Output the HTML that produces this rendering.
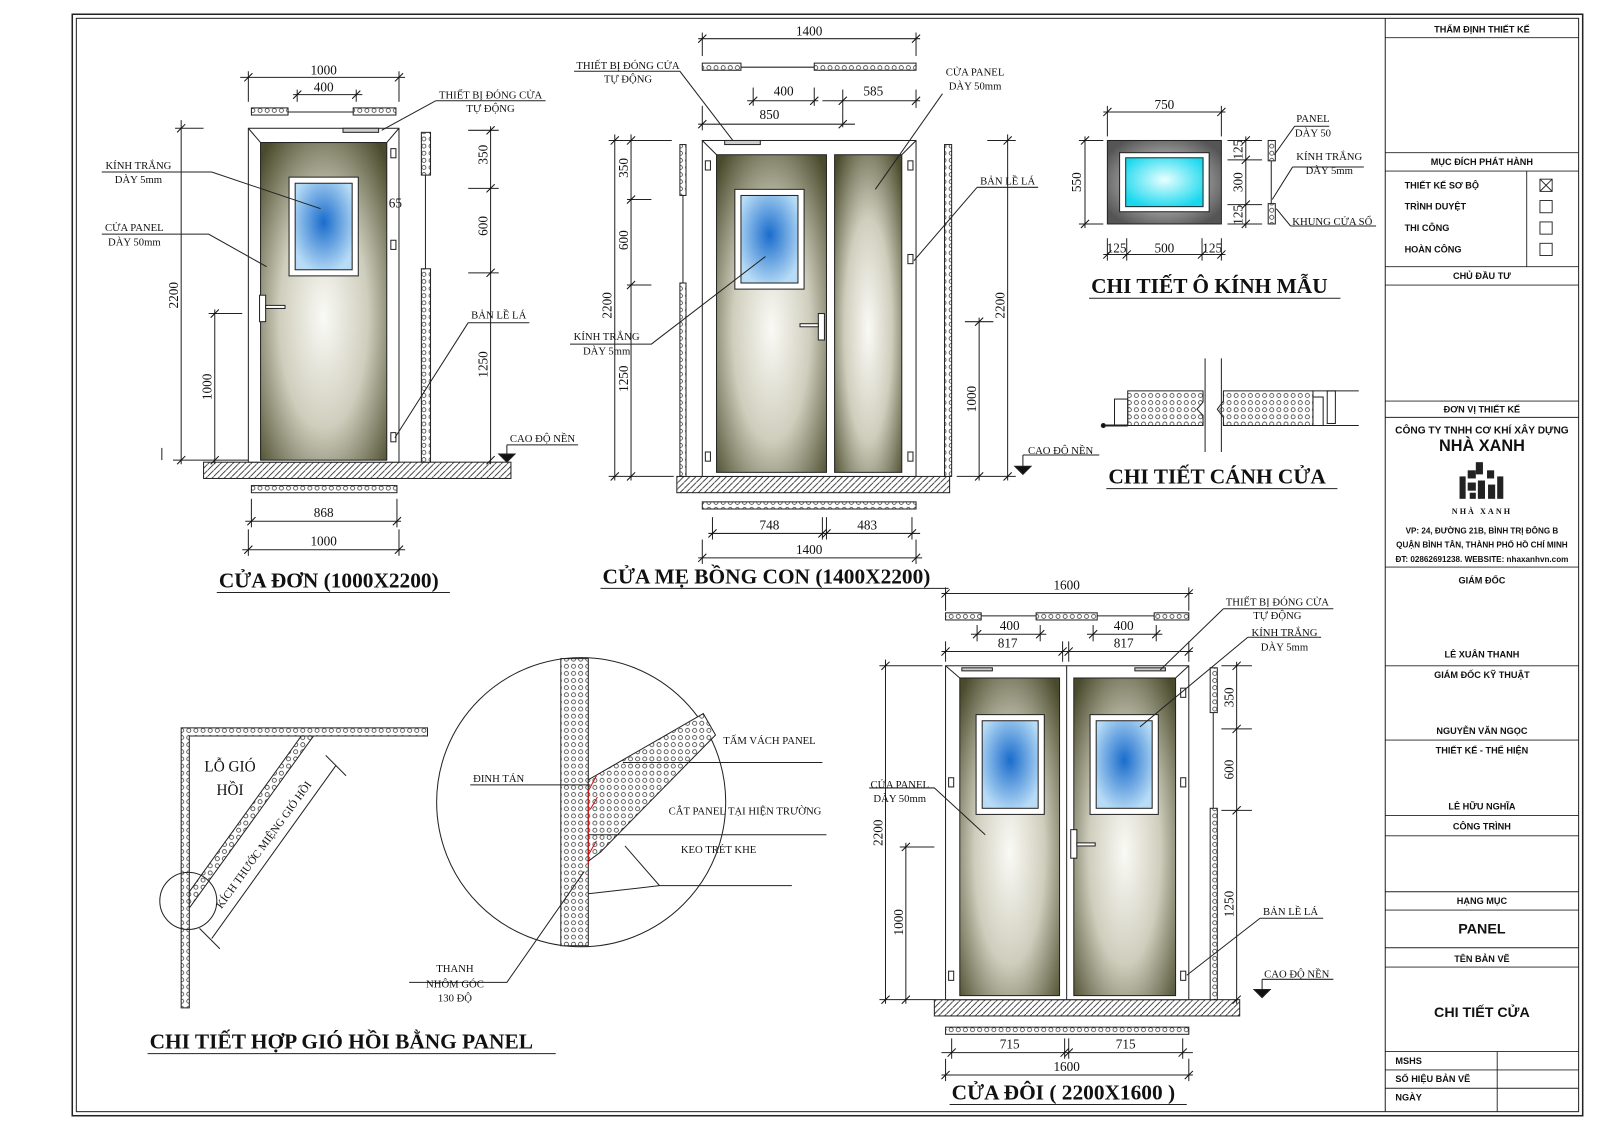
<!DOCTYPE html>
<html><head><meta charset="utf-8"><style>
html,body{margin:0;padding:0;background:#fff;}
svg{display:block}
text{font-family:"Liberation Serif",serif;fill:#111}
.s{font-size:10.5px}
.d{font-size:13px}
.T{font-family:"Liberation Serif",serif;font-weight:bold;font-size:21px}
.tb{font-family:"Liberation Sans",sans-serif;font-weight:bold;font-size:9px}
</style></head><body>
<svg width="1600" height="1131" viewBox="0 0 1572 1111" preserveAspectRatio="none" xmlns="http://www.w3.org/2000/svg">
<defs>
<radialGradient id="pg" cx="50%" cy="55%" r="70%"><stop offset="0" stop-color="#fafaf6"/><stop offset="0.5" stop-color="#cfcebd"/><stop offset="1" stop-color="#4a4a2c"/></radialGradient>
<radialGradient id="gl" cx="50%" cy="45%" r="60%"><stop offset="0" stop-color="#1a6ccc"/><stop offset="1" stop-color="#b8dcf6"/></radialGradient>
<radialGradient id="gl2" cx="50%" cy="45%" r="60%"><stop offset="0" stop-color="#e9ffff"/><stop offset="1" stop-color="#19d8ee"/></radialGradient>
<radialGradient id="wf" cx="50%" cy="50%" r="60%"><stop offset="0" stop-color="#eeeeee"/><stop offset="1" stop-color="#555"/></radialGradient>
<pattern id="h" width="6" height="6" patternUnits="userSpaceOnUse"><path d="M0,6 L6,0" stroke="#222" stroke-width="0.8"/></pattern>
<pattern id="c" width="7" height="7" patternUnits="userSpaceOnUse"><rect width="7" height="7" fill="#fff"/><circle cx="3.5" cy="3.5" r="2" fill="none" stroke="#222" stroke-width="0.7"/></pattern>
<path id="t" d="M-4,4 L4,-4" stroke="#111" stroke-width="1"/>
</defs>
<g fill="none" stroke="#222" stroke-width="1">
<rect x="71" y="14" width="1484" height="1082" stroke-width="1.5"/>
<rect x="75" y="18" width="1476" height="1074"/>
<line x1="1361" y1="18" x2="1361" y2="1092"/>
<g stroke-width="0.9">
<line x1="1361" y1="37" x2="1551" y2="37"/><line x1="1361" y1="150" x2="1551" y2="150"/>
<line x1="1361" y1="168" x2="1551" y2="168"/><line x1="1500" y1="168" x2="1500" y2="262"/>
<line x1="1361" y1="262" x2="1551" y2="262"/><line x1="1361" y1="280" x2="1551" y2="280"/>
<line x1="1361" y1="394" x2="1551" y2="394"/><line x1="1361" y1="410" x2="1551" y2="410"/>
<line x1="1361" y1="557" x2="1551" y2="557"/><line x1="1361" y1="654" x2="1551" y2="654"/>
<line x1="1361" y1="727" x2="1551" y2="727"/><line x1="1361" y1="801" x2="1551" y2="801"/>
<line x1="1361" y1="821" x2="1551" y2="821"/><line x1="1361" y1="876" x2="1551" y2="876"/>
<line x1="1361" y1="894" x2="1551" y2="894"/><line x1="1361" y1="931" x2="1551" y2="931"/>
<line x1="1361" y1="950" x2="1551" y2="950"/><line x1="1361" y1="1033" x2="1551" y2="1033"/>
<line x1="1361" y1="1051" x2="1551" y2="1051"/><line x1="1361" y1="1069" x2="1551" y2="1069"/>
<line x1="1471" y1="1033" x2="1471" y2="1092"/>
<rect x="1513" y="176" width="12" height="12"/><path d="M1513,176 L1525,188 M1525,176 L1513,188"/>
<rect x="1513" y="197" width="12" height="12"/><rect x="1513" y="218" width="12" height="12"/><rect x="1513" y="239" width="12" height="12"/>
</g>
<g fill="#222" stroke="none">
<rect x="1434" y="468" width="6" height="22"/><rect x="1442" y="462" width="8" height="8"/><rect x="1442" y="474" width="8" height="8"/><rect x="1450" y="454" width="7" height="12"/><rect x="1452" y="472" width="7" height="18"/><rect x="1461" y="462" width="7" height="8"/><rect x="1462" y="476" width="7" height="14"/><rect x="1471" y="468" width="6" height="22"/><rect x="1444" y="484" width="6" height="6"/>
</g>
</g>
<g class="tb" text-anchor="middle">
<text x="1456" y="32" class="tb">THẨM ĐỊNH THIẾT KẾ</text>
<text x="1456" y="162" class="tb">MỤC ĐÍCH PHÁT HÀNH</text>
<text x="1456" y="274" class="tb">CHỦ ĐẦU TƯ</text>
<text x="1456" y="405" class="tb">ĐƠN VỊ THIẾT KẾ</text>
<text x="1456" y="426" class="tb" style="font-size:10px">CÔNG TY TNHH CƠ KHÍ XÂY DỰNG</text>
<text x="1456" y="443" class="tb" style="font-size:16px">NHÀ XANH</text>
<text x="1456" y="505" style="font-size:8px;letter-spacing:2px">NHÀ XANH</text>
<text x="1456" y="524" class="tb" style="font-size:8px">VP: 24, ĐƯỜNG 21B, BÌNH TRỊ ĐÔNG B</text>
<text x="1456" y="538" class="tb" style="font-size:8px">QUẬN BÌNH TÂN, THÀNH PHỐ HỒ CHÍ MINH</text>
<text x="1456" y="552" class="tb" style="font-size:8px">ĐT: 02862691238. WEBSITE: nhaxanhvn.com</text>
<text x="1456" y="573" class="tb">GIÁM ĐỐC</text>
<text x="1456" y="646" class="tb">LÊ XUÂN THANH</text>
<text x="1456" y="666" class="tb">GIÁM ĐỐC KỸ THUẬT</text>
<text x="1456" y="721" class="tb">NGUYỄN VĂN NGỌC</text>
<text x="1456" y="740" class="tb">THIẾT KẾ - THỂ HIỆN</text>
<text x="1456" y="795" class="tb">LÊ HỮU NGHĨA</text>
<text x="1456" y="815" class="tb">CÔNG TRÌNH</text>
<text x="1456" y="888" class="tb">HẠNG MỤC</text>
<text x="1456" y="917" class="tb" style="font-size:14px">PANEL</text>
<text x="1456" y="945" class="tb">TÊN BẢN VẼ</text>
<text x="1456" y="999" class="tb" style="font-size:14px">CHI TIẾT CỬA</text>
</g>
<g class="tb">
<text x="1380" y="185" class="tb">THIẾT KẾ SƠ BỘ</text>
<text x="1380" y="206" class="tb">TRÌNH DUYỆT</text>
<text x="1380" y="227" class="tb">THI CÔNG</text>
<text x="1380" y="248" class="tb">HOÀN CÔNG</text>
<text x="1371" y="1045" class="tb">MSHS</text>
<text x="1371" y="1063" class="tb">SỐ HIỆU BẢN VẼ</text>
<text x="1371" y="1081" class="tb">NGÀY</text>
</g>

<!-- DOOR 1 -->
<g stroke="#222" stroke-width="1" fill="none">
<rect x="200" y="454" width="302" height="16" fill="url(#h)"/>
<rect x="244" y="126" width="148" height="328" fill="#fff"/>
<rect x="256" y="140" width="124" height="312" fill="url(#pg)"/>
<path d="M244,126 L256,140 M392,126 L380,140"/>
<rect x="284" y="174" width="68" height="97" fill="#fff"/>
<rect x="290" y="180" width="56" height="85" fill="url(#gl)"/>
<rect x="337" y="126" width="35" height="4" fill="#ccc"/>
<rect x="255" y="290" width="6" height="26" fill="#fff"/><rect x="261" y="300" width="19" height="3" fill="#fff"/>
<rect x="384" y="146" width="5" height="9"/><rect x="384" y="236" width="5" height="9"/><rect x="384" y="425" width="5" height="9"/>
<rect x="414" y="130" width="9" height="42" fill="url(#c)"/><line x1="418" y1="172" x2="418" y2="264"/><rect x="414" y="264" width="9" height="190" fill="url(#c)"/>
<rect x="247" y="106" width="36" height="7" fill="url(#c)"/><line x1="283" y1="110" x2="347" y2="110"/><rect x="347" y="106" width="42" height="7" fill="url(#c)"/>
<rect x="247" y="477" width="143" height="7" fill="url(#c)"/>
<line x1="236" y1="76" x2="398" y2="76"/><line x1="244" y1="70" x2="244" y2="100"/><line x1="392" y1="70" x2="392" y2="100"/>
<line x1="288" y1="93" x2="356" y2="93"/><line x1="292" y1="88" x2="292" y2="100"/><line x1="350" y1="88" x2="350" y2="100"/>
<line x1="178" y1="118" x2="178" y2="456"/><line x1="172" y1="126" x2="200" y2="126"/>
<line x1="211" y1="304" x2="211" y2="456"/><line x1="205" y1="308" x2="238" y2="308"/>
<line x1="170" y1="452" x2="244" y2="452"/>
<line x1="482" y1="124" x2="482" y2="456"/><line x1="460" y1="128" x2="490" y2="128"/><line x1="460" y1="185" x2="490" y2="185"/><line x1="460" y1="268" x2="490" y2="268"/>
<line x1="241" y1="512" x2="394" y2="512"/><line x1="247" y1="490" x2="247" y2="518"/><line x1="390" y1="490" x2="390" y2="518"/>
<line x1="238" y1="540" x2="398" y2="540"/><line x1="244" y1="520" x2="244" y2="546"/><line x1="392" y1="520" x2="392" y2="546"/>
<path d="M100,169 L208,169 L315,205"/><path d="M100,230 L205,230 L262,262"/><path d="M428,99 L536,99 M428,99 L375,128"/><path d="M460,317 L520,317 M460,317 L388,430"/>
<path d="M498,437 L568,437 M498,437 L498,452"/><path d="M490,446 L506,446 L498,454 Z" fill="#111"/>
<line x1="159" y1="440" x2="159" y2="452"/>
</g>
<g>
<use href="#t" x="244" y="76"/><use href="#t" x="392" y="76"/><use href="#t" x="292" y="93"/><use href="#t" x="350" y="93"/>
<use href="#t" x="178" y="126"/><use href="#t" x="178" y="452"/><use href="#t" x="211" y="308"/><use href="#t" x="211" y="452"/>
<use href="#t" x="482" y="128"/><use href="#t" x="482" y="185"/><use href="#t" x="482" y="268"/><use href="#t" x="482" y="452"/>
<use href="#t" x="247" y="512"/><use href="#t" x="390" y="512"/><use href="#t" x="244" y="540"/><use href="#t" x="392" y="540"/>
</g>
<text class="d" x="318" y="73" text-anchor="middle">1000</text><text class="d" x="318" y="90" text-anchor="middle">400</text>
<text class="d" x="318" y="508" text-anchor="middle">868</text><text class="d" x="318" y="536" text-anchor="middle">1000</text>
<text class="d" x="382" y="204">65</text>
<text class="d" transform="translate(175,290) rotate(-90)" text-anchor="middle">2200</text>
<text class="d" transform="translate(208,380) rotate(-90)" text-anchor="middle">1000</text>
<text class="d" transform="translate(479,152) rotate(-90)" text-anchor="middle">350</text>
<text class="d" transform="translate(479,222) rotate(-90)" text-anchor="middle">600</text>
<text class="d" transform="translate(479,358) rotate(-90)" text-anchor="middle">1250</text>
<g class="s">
<text x="136" y="166" text-anchor="middle">KÍNH TRẮNG</text><text x="136" y="180" text-anchor="middle">DÀY 5mm</text>
<text x="132" y="227" text-anchor="middle">CỬA PANEL</text><text x="132" y="241" text-anchor="middle">DÀY 50mm</text>
<text x="482" y="97" text-anchor="middle">THIẾT BỊ ĐÓNG CỬA</text><text x="482" y="110" text-anchor="middle">TỰ ĐỘNG</text>
<text x="490" y="313" text-anchor="middle">BẢN LỀ LÁ</text>
<text x="501" y="434">CAO ĐỘ NỀN</text>
</g>
<text class="T" x="215" y="577">CỬA ĐƠN (1000X2200)</text><line x1="213" y1="582" x2="442" y2="582" stroke="#222"/>

<!-- DOOR 2 -->
<g stroke="#222" stroke-width="1" fill="none">
<rect x="665" y="468" width="268" height="16" fill="url(#h)"/>
<rect x="690" y="138" width="210" height="330" fill="#fff"/>
<rect x="704" y="152" width="108" height="312" fill="url(#pg)"/>
<rect x="820" y="152" width="66" height="312" fill="url(#pg)"/>
<path d="M690,138 L704,152 M900,138 L886,152"/>
<rect x="722" y="186" width="68" height="98" fill="#fff"/><rect x="728" y="192" width="56" height="86" fill="url(#gl)"/>
<rect x="712" y="138" width="35" height="4" fill="#ccc"/>
<rect x="804" y="308" width="6" height="26" fill="#fff"/><rect x="786" y="318" width="18" height="3" fill="#fff"/>
<rect x="693" y="158" width="5" height="9"/><rect x="693" y="444" width="5" height="9"/><rect x="892" y="158" width="5" height="9"/><rect x="892" y="250" width="5" height="9"/><rect x="892" y="444" width="5" height="9"/>
<rect x="668" y="142" width="6" height="50" fill="url(#c)"/><line x1="671" y1="192" x2="671" y2="278"/><rect x="668" y="278" width="6" height="190" fill="url(#c)"/>
<rect x="928" y="142" width="7" height="326" fill="url(#c)"/>
<rect x="690" y="62" width="38" height="7" fill="url(#c)"/><line x1="728" y1="66" x2="800" y2="66"/><rect x="800" y="62" width="100" height="7" fill="url(#c)"/>
<rect x="690" y="493" width="210" height="7" fill="url(#c)"/>
<line x1="686" y1="38" x2="904" y2="38"/><line x1="690" y1="32" x2="690" y2="55"/><line x1="900" y1="32" x2="900" y2="55"/>
<line x1="734" y1="99" x2="804" y2="99"/><line x1="740" y1="86" x2="740" y2="104"/><line x1="800" y1="86" x2="800" y2="104"/>
<line x1="808" y1="99" x2="904" y2="99"/><line x1="828" y1="88" x2="828" y2="125"/><line x1="900" y1="88" x2="900" y2="106"/>
<line x1="686" y1="122" x2="840" y2="122"/><line x1="690" y1="104" x2="690" y2="128"/>
<line x1="604" y1="132" x2="604" y2="472"/><line x1="620" y1="132" x2="620" y2="472"/><line x1="598" y1="138" x2="660" y2="138"/><line x1="616" y1="196" x2="640" y2="196"/><line x1="616" y1="280" x2="640" y2="280"/><line x1="598" y1="468" x2="662" y2="468"/>
<line x1="990" y1="132" x2="990" y2="472"/><line x1="962" y1="312" x2="962" y2="472"/><line x1="948" y1="316" x2="976" y2="316"/><line x1="940" y1="468" x2="998" y2="468"/><line x1="970" y1="138" x2="998" y2="138"/>
<line x1="696" y1="524" x2="904" y2="524"/><line x1="700" y1="508" x2="700" y2="530"/><line x1="812" y1="508" x2="812" y2="530"/><line x1="808" y1="508" x2="808" y2="530"/><line x1="896" y1="508" x2="896" y2="530"/>
<line x1="686" y1="548" x2="906" y2="548"/><line x1="690" y1="530" x2="690" y2="554"/><line x1="900" y1="530" x2="900" y2="554"/>
<path d="M564,70 L668,70 L720,138"/><path d="M926,92 L860,186"/><path d="M960,184 L1020,184 M960,184 L898,256"/><path d="M560,338 L640,338 L752,252"/>
<path d="M1005,447 L1080,447 M1005,447 L1005,466"/><path d="M997,458 L1013,458 L1005,466 Z" fill="#111"/>
</g>
<g>
<use href="#t" x="690" y="38"/><use href="#t" x="900" y="38"/><use href="#t" x="740" y="99"/><use href="#t" x="800" y="99"/><use href="#t" x="828" y="99"/><use href="#t" x="900" y="99"/><use href="#t" x="690" y="122"/><use href="#t" x="828" y="122"/>
<use href="#t" x="604" y="138"/><use href="#t" x="604" y="468"/><use href="#t" x="620" y="138"/><use href="#t" x="620" y="196"/><use href="#t" x="620" y="280"/><use href="#t" x="620" y="468"/>
<use href="#t" x="990" y="138"/><use href="#t" x="990" y="468"/><use href="#t" x="962" y="316"/><use href="#t" x="962" y="468"/>
<use href="#t" x="700" y="524"/><use href="#t" x="808" y="524"/><use href="#t" x="812" y="524"/><use href="#t" x="896" y="524"/><use href="#t" x="690" y="548"/><use href="#t" x="900" y="548"/>
</g>
<text class="d" x="795" y="35" text-anchor="middle">1400</text><text class="d" x="770" y="94" text-anchor="middle">400</text><text class="d" x="858" y="94" text-anchor="middle">585</text><text class="d" x="756" y="117" text-anchor="middle">850</text>
<text class="d" x="756" y="520" text-anchor="middle">748</text><text class="d" x="852" y="520" text-anchor="middle">483</text><text class="d" x="795" y="544" text-anchor="middle">1400</text>
<text class="d" transform="translate(601,300) rotate(-90)" text-anchor="middle">2200</text>
<text class="d" transform="translate(617,165) rotate(-90)" text-anchor="middle">350</text>
<text class="d" transform="translate(617,236) rotate(-90)" text-anchor="middle">600</text>
<text class="d" transform="translate(617,372) rotate(-90)" text-anchor="middle">1250</text>
<text class="d" transform="translate(987,300) rotate(-90)" text-anchor="middle">2200</text>
<text class="d" transform="translate(959,392) rotate(-90)" text-anchor="middle">1000</text>
<g class="s">
<text x="617" y="68" text-anchor="middle">THIẾT BỊ ĐÓNG CỬA</text><text x="617" y="81" text-anchor="middle">TỰ ĐỘNG</text>
<text x="958" y="74" text-anchor="middle">CỬA PANEL</text><text x="958" y="88" text-anchor="middle">DÀY 50mm</text>
<text x="990" y="181" text-anchor="middle">BẢN LỀ LÁ</text>
<text x="596" y="334" text-anchor="middle">KÍNH TRẮNG</text><text x="596" y="348" text-anchor="middle">DÀY 5mm</text>
<text x="1010" y="446">CAO ĐỘ NỀN</text>
</g>
<text class="T" x="592" y="573">CỬA MẸ BỒNG CON (1400X2200)</text><line x1="590" y1="578" x2="932" y2="578" stroke="#222"/>

<!-- WINDOW DETAIL -->
<g stroke="#222" fill="none">
<rect x="1088" y="138" width="112" height="82" fill="url(#wf)"/>
<rect x="1100" y="150" width="88" height="58" fill="#fff"/>
<rect x="1106" y="155" width="76" height="48" fill="url(#gl2)"/>
<rect x="1246" y="138" width="7" height="20" fill="url(#c)"/><line x1="1249" y1="158" x2="1249" y2="200"/><rect x="1246" y="200" width="7" height="20" fill="url(#c)"/>
<line x1="1084" y1="110" x2="1204" y2="110"/><line x1="1088" y1="104" x2="1088" y2="134"/><line x1="1200" y1="104" x2="1200" y2="134"/>
<line x1="1066" y1="134" x2="1066" y2="224"/><line x1="1060" y1="138" x2="1084" y2="138"/><line x1="1060" y1="220" x2="1084" y2="220"/>
<line x1="1224" y1="134" x2="1224" y2="224"/><line x1="1206" y1="138" x2="1240" y2="138"/><line x1="1206" y1="157" x2="1240" y2="157"/><line x1="1206" y1="201" x2="1240" y2="201"/><line x1="1206" y1="220" x2="1240" y2="220"/>
<line x1="1084" y1="250" x2="1204" y2="250"/><line x1="1088" y1="234" x2="1088" y2="256"/><line x1="1107" y1="234" x2="1107" y2="256"/><line x1="1181" y1="234" x2="1181" y2="256"/><line x1="1200" y1="234" x2="1200" y2="256"/>
<path d="M1272,124 L1306,124 M1272,124 L1252,152"/><path d="M1270,164 L1340,164 M1270,164 L1250,196"/><path d="M1268,222 L1352,222 M1268,222 L1254,205"/>
</g>
<g>
<use href="#t" x="1088" y="110"/><use href="#t" x="1200" y="110"/><use href="#t" x="1066" y="138"/><use href="#t" x="1066" y="220"/>
<use href="#t" x="1224" y="138"/><use href="#t" x="1224" y="157"/><use href="#t" x="1224" y="201"/><use href="#t" x="1224" y="220"/>
<use href="#t" x="1088" y="250"/><use href="#t" x="1107" y="250"/><use href="#t" x="1181" y="250"/><use href="#t" x="1200" y="250"/>
</g>
<text class="d" x="1144" y="107" text-anchor="middle">750</text><text class="d" x="1097" y="248" text-anchor="middle">125</text><text class="d" x="1144" y="248" text-anchor="middle">500</text><text class="d" x="1191" y="248" text-anchor="middle">125</text>
<text class="d" transform="translate(1062,179) rotate(-90)" text-anchor="middle">550</text>
<text class="d" transform="translate(1221,147) rotate(-90)" text-anchor="middle">125</text>
<text class="d" transform="translate(1221,179) rotate(-90)" text-anchor="middle">300</text>
<text class="d" transform="translate(1221,211) rotate(-90)" text-anchor="middle">125</text>
<g class="s"><text x="1290" y="120" text-anchor="middle">PANEL</text><text x="1290" y="134" text-anchor="middle">DÀY 50</text>
<text x="1306" y="157" text-anchor="middle">KÍNH TRẮNG</text><text x="1306" y="171" text-anchor="middle">DÀY 5mm</text>
<text x="1309" y="221" text-anchor="middle">KHUNG CỬA SỔ</text></g>
<text class="T" x="1072" y="288">CHI TIẾT Ô KÍNH MẪU</text><line x1="1070" y1="293" x2="1317" y2="293" stroke="#222"/>

<!-- LEAF DETAIL -->
<g stroke="#222" fill="none">
<path d="M1108,384 L1182,384 L1182,395 L1176,402 L1182,408 L1182,418 L1108,418 Z" fill="url(#c)"/>
<path d="M1202,384 L1290,384 L1290,418 L1202,418 L1202,410 L1196,402 L1202,394 Z" fill="url(#c)"/>
<rect x="1095" y="392" width="13" height="26"/><line x1="1084" y1="418" x2="1108" y2="418" stroke-width="2"/><circle cx="1084" cy="418" r="2" fill="#111"/>
<path d="M1290,384 L1335,384 M1290,418 L1335,418"/><rect x="1290" y="390" width="10" height="28"/><rect x="1304" y="384" width="8" height="32"/>
<line x1="1184" y1="352" x2="1184" y2="444"/><line x1="1200" y1="352" x2="1200" y2="444"/>
</g>
<text class="T" x="1089" y="475">CHI TIẾT CÁNH CỬA</text><line x1="1087" y1="480" x2="1314" y2="480" stroke="#222"/>

<!-- DOOR 3 -->
<g stroke="#222" fill="none">
<rect x="918" y="982" width="300" height="16" fill="url(#h)"/>
<rect x="929" y="654" width="239" height="328" fill="#fff"/>
<rect x="943" y="666" width="98" height="312" fill="url(#pg)"/>
<rect x="1055" y="666" width="100" height="312" fill="url(#pg)"/>
<path d="M929,654 L943,666 M1168,654 L1155,666"/>
<line x1="1048" y1="654" x2="1048" y2="982"/>
<rect x="959" y="702" width="67" height="98" fill="#fff"/><rect x="965" y="708" width="55" height="86" fill="url(#gl)"/>
<rect x="1071" y="702" width="67" height="98" fill="#fff"/><rect x="1077" y="708" width="55" height="86" fill="url(#gl)"/>
<rect x="945" y="656" width="30" height="3" fill="#ccc"/><rect x="1115" y="656" width="30" height="3" fill="#ccc"/>
<rect x="1052" y="815" width="6" height="28" fill="#fff"/><rect x="1058" y="828" width="18" height="3" fill="#fff"/>
<rect x="932" y="764" width="5" height="9"/><rect x="932" y="954" width="5" height="9"/><rect x="1160" y="676" width="5" height="9"/><rect x="1160" y="764" width="5" height="9"/><rect x="1160" y="954" width="5" height="9"/>
<rect x="1189" y="656" width="7" height="44" fill="url(#c)"/><line x1="1192" y1="700" x2="1192" y2="794"/><rect x="1189" y="794" width="7" height="188" fill="url(#c)"/>
<rect x="929" y="602" width="35" height="7" fill="url(#c)"/><line x1="964" y1="605" x2="1018" y2="605"/><rect x="1018" y="602" width="60" height="7" fill="url(#c)"/><line x1="1078" y1="605" x2="1134" y2="605"/><rect x="1134" y="602" width="34" height="7" fill="url(#c)"/>
<rect x="929" y="1009" width="239" height="7" fill="url(#c)"/>
<line x1="925" y1="583" x2="1172" y2="583"/><line x1="929" y1="577" x2="929" y2="600"/><line x1="1168" y1="577" x2="1168" y2="600"/>
<line x1="954" y1="623" x2="1028" y2="623"/><line x1="960" y1="614" x2="960" y2="630"/><line x1="1022" y1="614" x2="1022" y2="630"/>
<line x1="1068" y1="623" x2="1142" y2="623"/><line x1="1074" y1="614" x2="1074" y2="630"/><line x1="1136" y1="614" x2="1136" y2="630"/>
<line x1="925" y1="640" x2="1172" y2="640"/><line x1="929" y1="630" x2="929" y2="650"/><line x1="1044" y1="630" x2="1044" y2="650"/><line x1="1050" y1="630" x2="1050" y2="650"/><line x1="1168" y1="630" x2="1168" y2="650"/>
<line x1="870" y1="648" x2="870" y2="986"/><line x1="864" y1="654" x2="926" y2="654"/><line x1="864" y1="982" x2="918" y2="982"/>
<line x1="890" y1="828" x2="890" y2="986"/><line x1="884" y1="832" x2="918" y2="832"/>
<line x1="1215" y1="650" x2="1215" y2="986"/><line x1="1200" y1="654" x2="1230" y2="654"/><line x1="1200" y1="716" x2="1230" y2="716"/><line x1="1200" y1="796" x2="1230" y2="796"/>
<line x1="925" y1="1034" x2="1172" y2="1034"/><line x1="935" y1="1020" x2="935" y2="1040"/><line x1="1046" y1="1020" x2="1046" y2="1040"/><line x1="1050" y1="1020" x2="1050" y2="1040"/><line x1="1162" y1="1020" x2="1162" y2="1040"/>
<line x1="925" y1="1056" x2="1172" y2="1056"/><line x1="929" y1="1040" x2="929" y2="1062"/><line x1="1168" y1="1040" x2="1168" y2="1062"/>
<path d="M1202,598 L1310,598 M1202,598 L1140,658"/><path d="M1226,626 L1298,626 M1226,626 L1120,714"/><path d="M854,774 L918,774 L968,820"/><path d="M1238,902 L1300,902 M1238,902 L1166,958"/>
<path d="M1240,962 L1310,962 M1240,962 L1240,980"/><path d="M1232,972 L1248,972 L1240,980 Z" fill="#111"/>
</g>
<g>
<use href="#t" x="929" y="583"/><use href="#t" x="1168" y="583"/><use href="#t" x="960" y="623"/><use href="#t" x="1022" y="623"/><use href="#t" x="1074" y="623"/><use href="#t" x="1136" y="623"/>
<use href="#t" x="929" y="640"/><use href="#t" x="1044" y="640"/><use href="#t" x="1050" y="640"/><use href="#t" x="1168" y="640"/>
<use href="#t" x="870" y="654"/><use href="#t" x="870" y="982"/><use href="#t" x="890" y="832"/><use href="#t" x="890" y="982"/>
<use href="#t" x="1215" y="654"/><use href="#t" x="1215" y="716"/><use href="#t" x="1215" y="796"/><use href="#t" x="1215" y="982"/>
<use href="#t" x="935" y="1034"/><use href="#t" x="1046" y="1034"/><use href="#t" x="1050" y="1034"/><use href="#t" x="1162" y="1034"/><use href="#t" x="929" y="1056"/><use href="#t" x="1168" y="1056"/>
</g>
<text class="d" x="1048" y="579" text-anchor="middle">1600</text>
<text class="d" x="992" y="619" text-anchor="middle">400</text><text class="d" x="1104" y="619" text-anchor="middle">400</text>
<text class="d" x="990" y="636" text-anchor="middle">817</text><text class="d" x="1104" y="636" text-anchor="middle">817</text>
<text class="d" x="992" y="1030" text-anchor="middle">715</text><text class="d" x="1106" y="1030" text-anchor="middle">715</text><text class="d" x="1048" y="1052" text-anchor="middle">1600</text>
<text class="d" transform="translate(867,818) rotate(-90)" text-anchor="middle">2200</text>
<text class="d" transform="translate(887,906) rotate(-90)" text-anchor="middle">1000</text>
<text class="d" transform="translate(1212,685) rotate(-90)" text-anchor="middle">350</text>
<text class="d" transform="translate(1212,756) rotate(-90)" text-anchor="middle">600</text>
<text class="d" transform="translate(1212,888) rotate(-90)" text-anchor="middle">1250</text>
<g class="s">
<text x="1255" y="595" text-anchor="middle">THIẾT BỊ ĐÓNG CỬA</text><text x="1255" y="608" text-anchor="middle">TỰ ĐỘNG</text>
<text x="1262" y="625" text-anchor="middle">KÍNH TRẮNG</text><text x="1262" y="639" text-anchor="middle">DÀY 5mm</text>
<text x="884" y="774" text-anchor="middle">CỬA PANEL</text><text x="884" y="788" text-anchor="middle">DÀY 50mm</text>
<text x="1268" y="899" text-anchor="middle">BẢN LỀ LÁ</text>
<text x="1242" y="960">CAO ĐỘ NỀN</text>
</g>
<text class="T" x="935" y="1080">CỬA ĐÔI ( 2200X1600 )</text><line x1="933" y1="1085" x2="1166" y2="1085" stroke="#222"/>

<!-- RETURN AIR DETAIL -->
<g stroke="#222" fill="none">
<path d="M178,715 L420,715 L420,723 L186,723 L186,990 L178,990 Z" fill="url(#c)"/>
<path d="M186,876 L296,723 L308,723 L186,892 Z" fill="url(#c)"/>
<circle cx="185" cy="885" r="28"/>
<line x1="208" y1="922" x2="330" y2="752"/><line x1="196" y1="912" x2="216" y2="932"/><line x1="320" y1="742" x2="340" y2="762"/>
<circle cx="571" cy="788" r="142"/>
<path d="M551,647 L578,647 L578,929 L551,929 Z" fill="url(#c)"/>
<path d="M578,766 L691,701 L703,722 L590,837 L578,846 Z" fill="url(#c)"/>
<path d="M578,777 L586,762 M580,795 L587,783 M578,840 L586,826" stroke="#d01010"/><line x1="578" y1="775" x2="578" y2="850" stroke="#d01010"/>
<path d="M462,771 L580,771"/><path d="M612,749 L808,749"/><path d="M578,820 L812,820"/><path d="M578,878 L648,870 L614,831 M648,870 L778,870"/>
<path d="M402,965 L498,965 L574,856"/>
</g>
<g class="s">
<text x="756" y="731" text-anchor="middle">TẤM VÁCH PANEL</text><text x="732" y="800" text-anchor="middle">CẮT PANEL TẠI HIỆN TRƯỜNG</text><text x="706" y="838" text-anchor="middle">KEO TRÉT KHE</text>
<text x="490" y="768" text-anchor="middle">ĐINH TÁN</text>
<text x="447" y="955" text-anchor="middle">THANH</text><text x="447" y="970" text-anchor="middle">NHÔM GÓC</text><text x="447" y="984" text-anchor="middle">130 ĐỘ</text>
</g>
<text x="226" y="758" text-anchor="middle" style="font-size:15px">LỖ GIÓ</text><text x="226" y="781" text-anchor="middle" style="font-size:15px">HỒI</text>
<text class="s" transform="translate(262,832) rotate(-54)" text-anchor="middle" style="font-size:11px">KÍCH THƯỚC MIỆNG GIÓ HỒI</text>
<text class="T" x="147" y="1030">CHI TIẾT HỢP GIÓ HỒI BẰNG PANEL</text><line x1="145" y1="1035" x2="546" y2="1035" stroke="#222"/>
</svg>
</body></html>
